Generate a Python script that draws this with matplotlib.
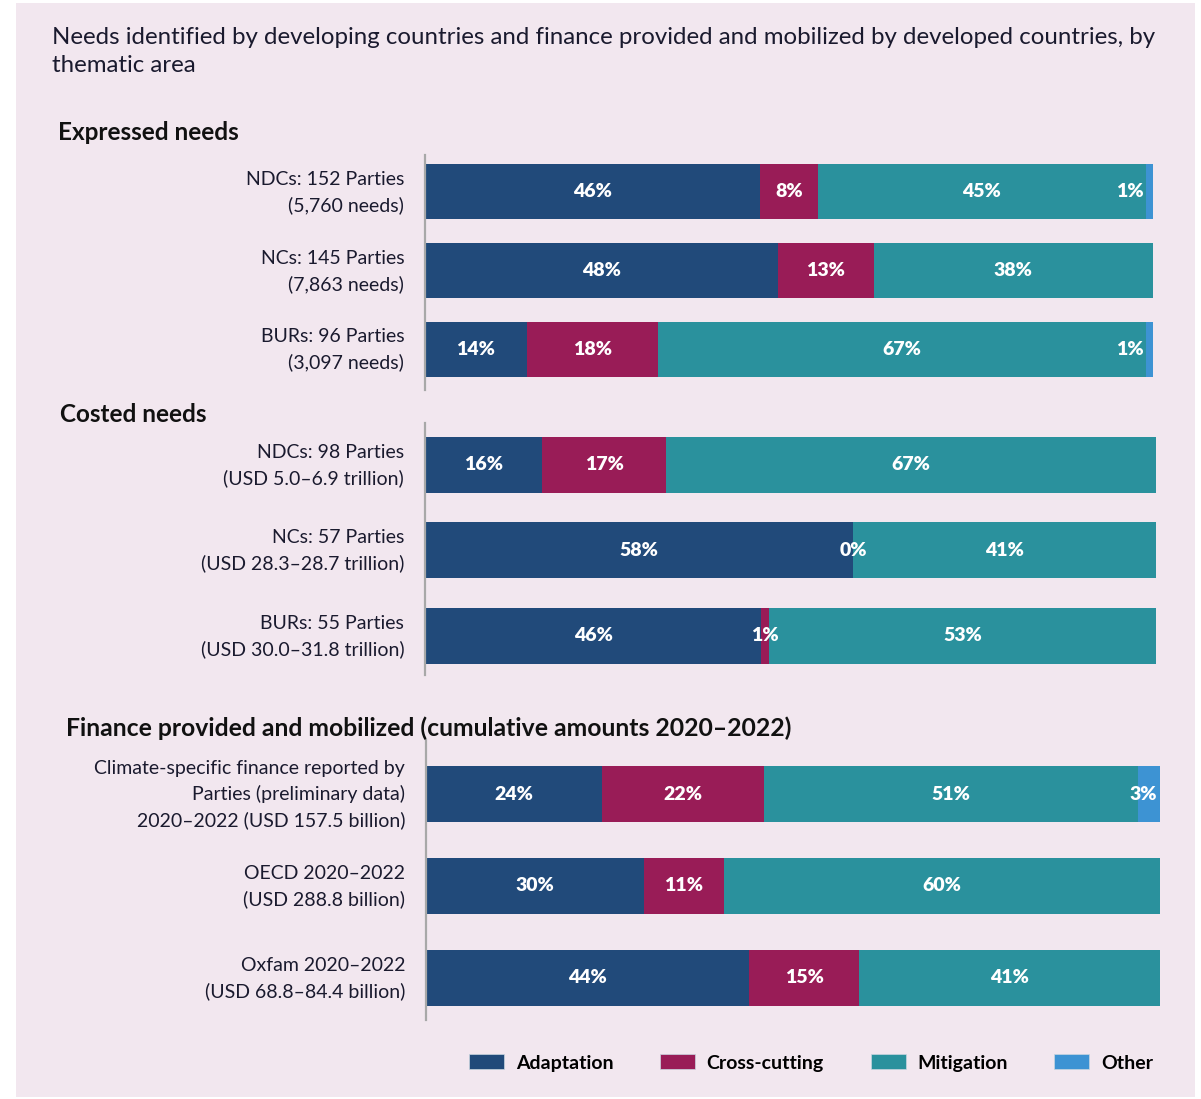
import numpy as np
import matplotlib
matplotlib.use('Agg')
import matplotlib.pyplot as plt
import matplotlib.transforms as mtransforms
from matplotlib.patches import Patch

plt.rcParams['font.family'] = ['Lato', 'DejaVu Sans']

# data (percent shares per thematic area); nan = segment not shown
categories = ['Adaptation', 'Cross-cutting', 'Mitigation', 'Other']
colors = ['#214a7a', '#991c57', '#2a919d', '#3d93d3']

expressed_labels = ['NDCs: 152 Parties\n(5,760 needs)',
                    'NCs: 145 Parties\n(7,863 needs)',
                    'BURs: 96 Parties\n(3,097 needs)']
expressed_adapt = [46, 48, 14]
expressed_cross = [8, 13, 18]
expressed_mitig = [45, 38, 67]
expressed_other = [1, np.nan, 1]

costed_labels = ['NDCs: 98 Parties\n(USD 5.0\u20136.9 trillion)',
                 'NCs: 57 Parties\n(USD 28.3\u201328.7 trillion)',
                 'BURs: 55 Parties\n(USD 30.0\u201331.8 trillion)']
costed_adapt = [16, 58, 46]
costed_cross = [17, 0, 1]
costed_mitig = [67, 41, 53]
costed_other = [np.nan, np.nan, np.nan]

finance_labels = ['Climate-specific finance reported by\nParties (preliminary data)\n2020\u20132022 (USD 157.5 billion)',
                  'OECD 2020\u20132022\n(USD 288.8 billion)',
                  'Oxfam 2020\u20132022\n(USD 68.8\u201384.4 billion)']
finance_adapt = [24, 30, 44]
finance_cross = [22, 11, 15]
finance_mitig = [51, 60, 41]
finance_other = [3, np.nan, np.nan]

W, H = 1201, 1099
fig = plt.figure(figsize=(W / 100, H / 100), dpi=100)
fig.patch.set_facecolor('white')
bg = '#f2e7ef'
fig.patches.append(plt.Rectangle((16 / W, 1 - 1097 / H), (1195 - 16) / W, (1097 - 3) / H,
                                 transform=fig.transFigure, facecolor=bg, edgecolor='none', zorder=-10))


def px_axes(left, right, top, bottom):
    return fig.add_axes([left / W, 1 - bottom / H, (right - left) / W, (bottom - top) / H])


def draw_group(ax, labels, series, height, ylim):
    n = len(labels)
    ys = np.arange(n)
    data = np.array(series, dtype=float)
    totals = np.nansum(data, axis=0)
    left = np.zeros(n)
    lbl = dict(va='center', color='white', fontsize=14, fontweight='heavy')
    for ci, vals in enumerate(data):
        for i in range(n):
            v = vals[i]
            if np.isnan(v):
                continue
            w = v / totals[i] * 100
            ax.barh(ys[i], w, left=left[i], height=height, color=colors[ci], linewidth=0)
            txt = '%d%%' % v
            if ci == 3 and v < 2:
                ax.text(left[i] - 0.3, ys[i], txt, ha='right', **lbl)
            elif ci == 3:
                ax.text(left[i] + w / 2 - 0.8, ys[i], txt, ha='center', **lbl)
            else:
                ax.text(left[i] + w / 2, ys[i], txt, ha='center', **lbl)
            left[i] += w
    ax.set_xlim(0, 100)
    ax.set_ylim(*ylim)
    ax.set_yticks(ys)
    ax.set_yticklabels(labels, fontsize=14, color='#1a1a2e', linespacing=1.55)
    ax.tick_params(axis='y', length=0, pad=15)
    # nudge the labels up a little
    shift = mtransforms.ScaledTranslation(0, 5 / 100, fig.dpi_scale_trans)
    for t in ax.get_yticklabels():
        t.set_transform(t.get_transform() + shift)
    ax.set_xticks([])
    ax.set_facecolor('none')
    for s in ['top', 'right', 'bottom']:
        ax.spines[s].set_visible(False)
    ax.spines['left'].set_color('#a8a8a8')
    ax.spines['left'].set_linewidth(1.6)


ax1 = px_axes(425, 1153, 155, 390)
draw_group(ax1, expressed_labels,
           [expressed_adapt, expressed_cross, expressed_mitig, expressed_other],
           0.70, (2.52, -0.47))

ax2 = px_axes(425, 1156, 423, 675)
draw_group(ax2, costed_labels,
           [costed_adapt, costed_cross, costed_mitig, costed_other],
           0.66, (2.46, -0.49))

ax3 = px_axes(426, 1160, 740, 1020)
draw_group(ax3, finance_labels,
           [finance_adapt, finance_cross, finance_mitig, finance_other],
           0.61, (2.46, -0.59))

# title and headings
fig.text(52 / W, 1 - 27 / H, 'Needs identified by developing countries and finance provided and mobilized by developed countries, by\nthematic area',
         ha='left', va='top', fontsize=17.3, color='#1a1a2e', linespacing=1.4)
fig.text(58 / W, 1 - 133 / H, 'Expressed needs', ha='left', va='center', fontsize=17.5,
         fontweight='bold', color='#111111')
fig.text(60 / W, 1 - 415 / H, 'Costed needs', ha='left', va='center', fontsize=17.5,
         fontweight='bold', color='#111111')
fig.text(66 / W, 1 - 728 / H, 'Finance provided and mobilized (cumulative amounts 2020\u20132022)',
         ha='left', va='center', fontsize=17.8, fontweight='bold', color='#111111')

handles = [Patch(facecolor=c, edgecolor='#c9d6e0', linewidth=0.5) for c in colors]
fig.legend(handles, categories, loc='center', bbox_to_anchor=(811 / W, 1 - 1063 / H),
           ncol=4, frameon=False, handlelength=1.8, handleheight=0.8,
           handletextpad=0.6, columnspacing=2.4, prop={'weight': 'bold', 'size': 14})

fig.savefig('out.png', dpi=100, facecolor='white')
